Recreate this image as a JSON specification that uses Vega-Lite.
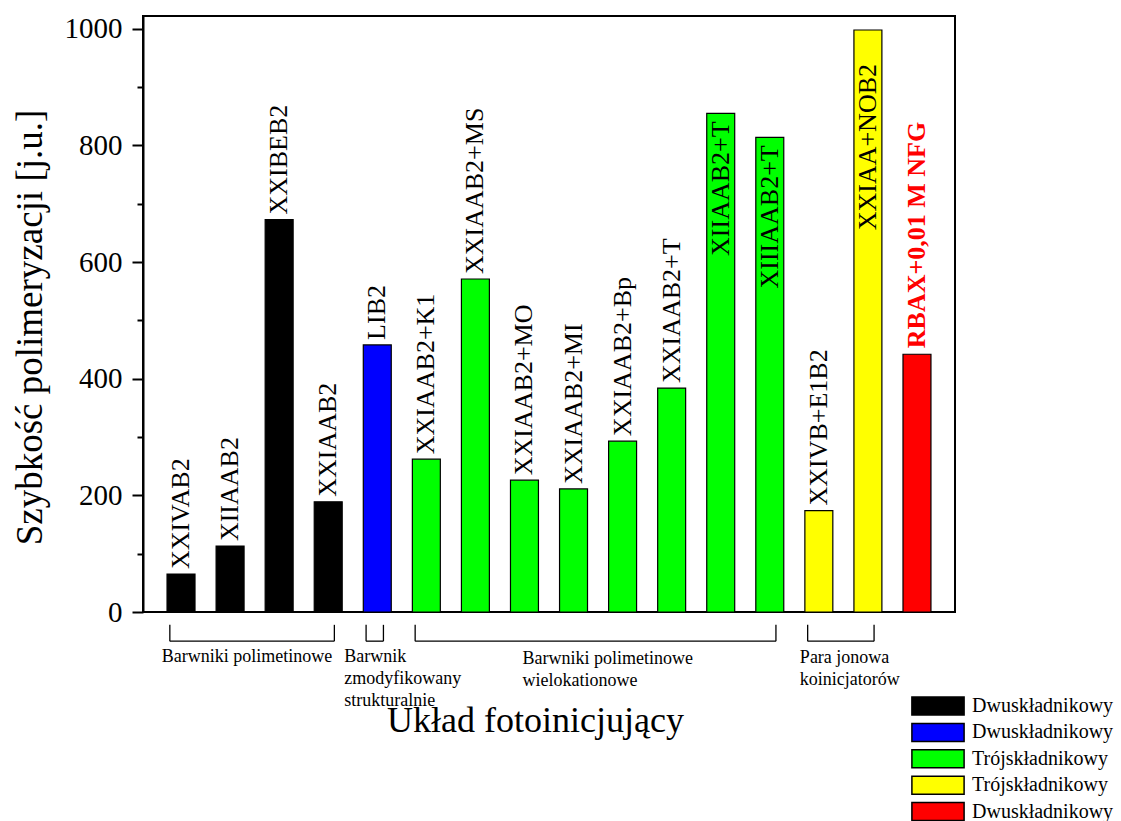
{
  "$schema": "https://vega.github.io/schema/vega-lite/v6.json",
  "width": 812,
  "height": 596,
  "autosize": {"type": "none"},
  "padding": {"left": 143, "top": 16, "right": 166, "bottom": 209},
  "background": "white",
  "config": {
    "font": "Liberation Serif",
    "view": {"stroke": "black", "strokeWidth": 2},
    "axis": {"labelFont": "Liberation Serif", "titleFont": "Liberation Serif", "titleFontWeight": "normal", "labelColor": "black", "titleColor": "black", "grid": false},
    "axisX": {"labels": false, "ticks": false, "domain": false, "titleFontSize": 36, "titleX": 392, "titleY": 119, "titleBaseline": "alphabetic", "titleAlign": "center"},
    "text": {"font": "Liberation Serif", "color": "black"}
  },
  "datasets": {
    "bars": [
      {"name": "XXIVAB2", "value": 65, "grp": "polimetinowe"},
      {"name": "XIIAAB2", "value": 113, "grp": "polimetinowe"},
      {"name": "XXIBEB2", "value": 673, "grp": "polimetinowe"},
      {"name": "XXIAAB2", "value": 189, "grp": "polimetinowe"},
      {"name": "LIB2", "value": 458, "grp": "zmodyfikowany"},
      {"name": "XXIAAB2+K1", "value": 262, "grp": "wielokationowe"},
      {"name": "XXIAAB2+MS", "value": 571, "grp": "wielokationowe"},
      {"name": "XXIAAB2+MO", "value": 226, "grp": "wielokationowe"},
      {"name": "XXIAAB2+MI", "value": 211, "grp": "wielokationowe"},
      {"name": "XXIAAB2+Bp", "value": 293, "grp": "wielokationowe"},
      {"name": "XXIAAB2+T", "value": 384, "grp": "wielokationowe"},
      {"name": "XIIAAB2+T", "value": 855, "grp": "wielokationowe"},
      {"name": "XIIIAAB2+T", "value": 814, "grp": "wielokationowe"},
      {"name": "XXIVB+E1B2", "value": 174, "grp": "para jonowa"},
      {"name": "XXIAA+NOB2", "value": 998, "grp": "para jonowa"},
      {"name": "RBAX+0,01 M NFG", "value": 442, "grp": "NFG"}
    ],
    "brackets": [
      {"from": "XXIVAB2", "to": "XXIAAB2"},
      {"from": "LIB2", "to": "LIB2"},
      {"from": "XXIAAB2+K1", "to": "XIIIAAB2+T"},
      {"from": "XXIVB+E1B2", "to": "XXIAA+NOB2"}
    ],
    "groups": [
      {"label": "Barwniki polimetinowe", "anchor": "XIIAAB2"},
      {"label": "Barwnik\nzmodyfikowany\nstrukturalnie", "anchor": "XXIAAB2"},
      {"label": "Barwniki polimetinowe\nwielokationowe", "anchor": "XXIAAB2+MO"},
      {"label": "Para jonowa\nkoinicjatorów", "anchor": "XXIVB+E1B2"}
    ]
  },
  "layer": [
    {
      "data": {"name": "bars"},
      "mark": {"type": "bar", "stroke": "black", "strokeWidth": 1.2},
      "encoding": {
        "x": {
          "field": "name", "type": "nominal", "sort": null,
          "scale": {
            "domain": ["XXIVAB2", "XIIAAB2", "XXIBEB2", "XXIAAB2", "LIB2", "XXIAAB2+K1", "XXIAAB2+MS", "XXIAAB2+MO", "XXIAAB2+MI", "XXIAAB2+Bp", "XXIAAB2+T", "XIIAAB2+T", "XIIIAAB2+T", "XXIVB+E1B2", "XXIAA+NOB2", "RBAX+0,01 M NFG"],
            "paddingInner": 0.43, "paddingOuter": 0.49
          },
          "axis": {"title": "Układ fotoinicjujący"}
        },
        "y": {
          "field": "value", "type": "quantitative",
          "scale": {"domain": [0, 1022], "nice": false, "zero": false},
          "axis": {
            "orient": "left", "values": [0, 200, 400, 600, 800, 1000], "format": "d",
            "tickSize": 11, "tickWidth": 2, "tickColor": "black",
            "domainColor": "black", "domainWidth": 2,
            "labelFontSize": 29, "labelPadding": 10,
            "title": "Szybkość polimeryzacji [j.u.]", "titleFontSize": 37,
            "titleX": -113, "titleY": 311, "titleBaseline": "middle", "titleAlign": "center", "titleAngle": -90
          }
        },
        "color": {
          "field": "grp", "type": "nominal",
          "scale": {
            "domain": ["polimetinowe", "zmodyfikowany", "wielokationowe", "para jonowa", "NFG"],
            "range": ["#000000", "#0000ff", "#00ff00", "#ffff00", "#ff0000"]
          },
          "legend": {
            "orient": "none", "legendX": 785, "legendY": 680, "title": null,
            "symbolType": "M-2.9,-1H2.9V1H-2.9Z", "symbolSize": 324,
            "symbolStrokeColor": "black", "symbolStrokeWidth": 1.5, "symbolOpacity": 1,
            "labelFont": "Liberation Serif", "labelFontSize": 20, "labelColor": "black",
            "labelOffset": 24, "labelLimit": 300, "rowPadding": 2.4,
            "labelExpr": "indexof(['polimetinowe','zmodyfikowany','NFG'], datum.value) >= 0 ? 'Dwuskładnikowy' : 'Trójskładnikowy'"
          }
        }
      }
    },
    {
      "data": {"name": "bars"},
      "transform": [{"filter": "indexof(['XIIAAB2+T','XIIIAAB2+T','XXIAA+NOB2','RBAX+0,01 M NFG'], datum.name) < 0"}],
      "mark": {"type": "text", "angle": 270, "align": "left", "baseline": "middle", "dx": 5, "fontSize": 26},
      "encoding": {
        "x": {"field": "name", "type": "nominal", "sort": null, "axis": {"title": "Układ fotoinicjujący"}},
        "y": {
          "field": "value", "type": "quantitative",
          "axis": {
            "orient": "left", "values": [100, 300, 500, 700, 900],
            "labels": false, "tickSize": 6, "tickWidth": 2, "tickColor": "black",
            "domain": false, "title": null, "grid": false
          }
        },
        "text": {"field": "name"}
      }
    },
    {
      "data": {"name": "bars"},
      "transform": [{"filter": "datum.name == 'XIIAAB2+T' || datum.name == 'XIIIAAB2+T'"}],
      "mark": {"type": "text", "angle": 270, "align": "right", "baseline": "middle", "dx": -8, "fontSize": 26},
      "encoding": {
        "x": {"field": "name", "type": "nominal", "sort": null, "axis": {"title": "Układ fotoinicjujący"}},
        "y": {"field": "value", "type": "quantitative", "axis": null},
        "text": {"field": "name"}
      }
    },
    {
      "data": {"name": "bars"},
      "transform": [{"filter": "datum.name == 'XXIAA+NOB2'"}],
      "mark": {"type": "text", "angle": 270, "align": "right", "baseline": "middle", "dx": -34, "fontSize": 26},
      "encoding": {
        "x": {"field": "name", "type": "nominal", "sort": null, "axis": {"title": "Układ fotoinicjujący"}},
        "y": {"field": "value", "type": "quantitative", "axis": null},
        "text": {"field": "name"}
      }
    },
    {
      "data": {"name": "bars"},
      "transform": [{"filter": "datum.grp == 'NFG'"}],
      "mark": {"type": "text", "angle": 270, "align": "left", "baseline": "middle", "dx": 6, "fontSize": 26, "fontWeight": "bold", "color": "#ff0000"},
      "encoding": {
        "x": {"field": "name", "type": "nominal", "sort": null, "axis": {"title": "Układ fotoinicjujący"}},
        "y": {"field": "value", "type": "quantitative", "axis": null},
        "text": {"field": "name"}
      }
    },
    {
      "data": {"name": "brackets"},
      "mark": {"type": "rule", "color": "black", "strokeWidth": 1.3},
      "encoding": {
        "x": {"field": "from", "type": "nominal", "sort": null, "bandPosition": 0.1, "axis": {"title": "Układ fotoinicjujący"}},
        "x2": {"field": "to", "bandPosition": 0.72},
        "y": {"datum": -50, "type": "quantitative", "axis": null}
      }
    },
    {
      "data": {"name": "brackets"},
      "mark": {"type": "rule", "color": "black", "strokeWidth": 1.3},
      "encoding": {
        "x": {"field": "from", "type": "nominal", "sort": null, "bandPosition": 0.1, "axis": {"title": "Układ fotoinicjujący"}},
        "y": {"datum": -22, "type": "quantitative", "axis": null},
        "y2": {"datum": -50}
      }
    },
    {
      "data": {"name": "brackets"},
      "mark": {"type": "rule", "color": "black", "strokeWidth": 1.3},
      "encoding": {
        "x": {"field": "to", "type": "nominal", "sort": null, "bandPosition": 0.72, "axis": {"title": "Układ fotoinicjujący"}},
        "y": {"datum": -22, "type": "quantitative", "axis": null},
        "y2": {"datum": -50}
      }
    },
    {
      "data": {"name": "groups"},
      "transform": [{"filter": "datum.anchor == 'XIIAAB2'"}],
      "mark": {"type": "text", "align": "center", "baseline": "alphabetic", "fontSize": 18, "lineBreak": "\n", "lineHeight": 22, "dx": 3},
      "encoding": {
        "x": {"field": "anchor", "type": "nominal", "sort": null, "bandPosition": 1, "axis": {"title": "Układ fotoinicjujący"}},
        "y": {"datum": -85, "type": "quantitative", "axis": null},
        "text": {"field": "label"}
      }
    },
    {
      "data": {"name": "groups"},
      "transform": [{"filter": "datum.anchor == 'XXIAAB2'"}],
      "mark": {"type": "text", "align": "left", "baseline": "alphabetic", "fontSize": 18, "lineBreak": "\n", "lineHeight": 22, "dx": 2},
      "encoding": {
        "x": {"field": "anchor", "type": "nominal", "sort": null, "bandPosition": 1, "axis": {"title": "Układ fotoinicjujący"}},
        "y": {"datum": -85, "type": "quantitative", "axis": null},
        "text": {"field": "label"}
      }
    },
    {
      "data": {"name": "groups"},
      "transform": [{"filter": "datum.anchor == 'XXIAAB2+MO'"}],
      "mark": {"type": "text", "align": "left", "baseline": "alphabetic", "fontSize": 18, "lineBreak": "\n", "lineHeight": 22, "dx": -2},
      "encoding": {
        "x": {"field": "anchor", "type": "nominal", "sort": null, "bandPosition": 0.5, "axis": {"title": "Układ fotoinicjujący"}},
        "y": {"datum": -90, "type": "quantitative", "axis": null},
        "text": {"field": "label"}
      }
    },
    {
      "data": {"name": "groups"},
      "transform": [{"filter": "datum.anchor == 'XXIVB+E1B2'"}],
      "mark": {"type": "text", "align": "left", "baseline": "alphabetic", "fontSize": 18, "lineBreak": "\n", "lineHeight": 22, "dx": -5},
      "encoding": {
        "x": {"field": "anchor", "type": "nominal", "sort": null, "bandPosition": 0, "axis": {"title": "Układ fotoinicjujący"}},
        "y": {"datum": -87, "type": "quantitative", "axis": null},
        "text": {"field": "label"}
      }
    }
  ],
  "resolve": {"axis": {"y": "independent"}}
}
